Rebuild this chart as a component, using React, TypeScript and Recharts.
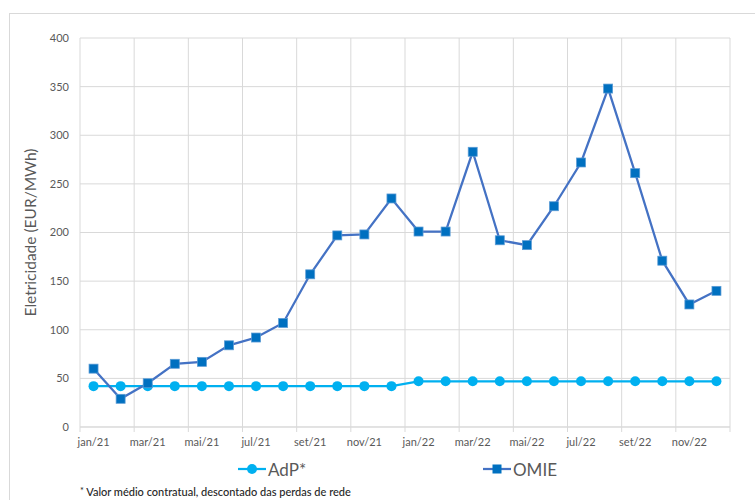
import { LineChart, Line, XAxis, YAxis, CartesianGrid, Legend } from 'recharts';

const FONT = 'Lato, "Open Sans", sans-serif';

// months (jan/21 .. dez/22)
const months = [
  'jan/21', 'fev/21', 'mar/21', 'abr/21', 'mai/21', 'jun/21',
  'jul/21', 'ago/21', 'set/21', 'out/21', 'nov/21', 'dez/21',
  'jan/22', 'fev/22', 'mar/22', 'abr/22', 'mai/22', 'jun/22',
  'jul/22', 'ago/22', 'set/22', 'out/22', 'nov/22', 'dez/22',
];

// AdP* - contract average, EUR/MWh
const adpValues = [
  42, 42, 42, 42, 42, 42, 42, 42, 42, 42, 42, 42,
  47, 47, 47, 47, 47, 47, 47, 47, 47, 47, 47, 47,
];

// OMIE - market price, EUR/MWh
const omieValues = [
  60, 29, 45, 65, 67, 84, 92, 107, 157, 197, 198, 235,
  201, 201, 283, 192, 187, 227, 272, 348, 261, 171, 126, 140,
];

const yTicks = [0, 50, 100, 150, 200, 250, 300, 350, 400];

// each month sits in the middle of its own slot on a 0..24 scale
const data = months.map((month, i) => ({
  pos: i + 0.5,
  month,
  adp: adpValues[i],
  omie: omieValues[i],
}));

const labelTicks = data.filter((_, i) => i % 2 === 0).map((d) => d.pos);
const gridTicks = [0, 2, 4, 6, 8, 10, 12, 14, 16, 18, 20, 22, 24];

const ADP_COLOR = '#00B0F0';
const OMIE_LINE = '#4472C4';
const OMIE_MARK = '#0070C0';
const GRID = '#d9d9d9';
const TEXT = '#595959';

function SquareDot(props: any) {
  const { cx, cy, index } = props;
  if (cx == null || cy == null) return <g key={`sq-${index}`} />;
  return (
    <rect
      key={`sq-${index}`}
      x={cx - 4.5}
      y={cy - 4.5}
      width={9}
      height={9}
      fill={OMIE_MARK}
      stroke="#5B9BD5"
      strokeWidth={0.75}
    />
  );
}

function renderLegend() {
  return (
    <div style={{ position: 'relative', height: 20, fontFamily: FONT, fontSize: 17, color: TEXT }}>
      <div style={{ position: 'absolute', left: 238, top: 0, height: 20, display: 'flex', alignItems: 'center' }}>
        <svg width={28} height={12}>
          <line x1={0} y1={6} x2={28} y2={6} stroke={ADP_COLOR} strokeWidth={2.25} />
          <circle cx={14} cy={6} r={5} fill={ADP_COLOR} />
        </svg>
        <span style={{ marginLeft: 2 }}>AdP*</span>
      </div>
      <div style={{ position: 'absolute', left: 483, top: 0, height: 20, display: 'flex', alignItems: 'center' }}>
        <svg width={28} height={12}>
          <line x1={0} y1={6} x2={28} y2={6} stroke={OMIE_LINE} strokeWidth={2.25} />
          <rect x={9.5} y={1.5} width={9} height={9} fill={OMIE_MARK} />
        </svg>
        <span style={{ marginLeft: 2 }}>OMIE</span>
      </div>
    </div>
  );
}

export default function App() {
  return (
    <div style={{ position: 'fixed', left: 0, top: 0, width: 755, height: 500, background: '#fff', overflow: 'hidden' }}>
      <div
        style={{
          position: 'absolute',
          left: 9,
          top: 13,
          width: 770,
          height: 520,
          border: `1px solid ${GRID}`,
        }}
      />
      <LineChart
        width={755}
        height={500}
        data={data}
        margin={{ top: 38, right: 25, left: 0, bottom: 21 }}
        style={{ position: 'absolute', left: 0, top: 0 }}
      >
        <CartesianGrid stroke={GRID} strokeWidth={1} xAxisId="grid" />
        <XAxis
          xAxisId="grid"
          type="number"
          dataKey="pos"
          domain={[0, 24]}
          ticks={gridTicks}
          tickFormatter={() => ''}
          axisLine={{ stroke: GRID }}
          tickLine={{ stroke: GRID }}
          tickSize={5}
          height={6}
          interval={0}
        />
        <XAxis
          xAxisId="lbl"
          type="number"
          dataKey="pos"
          domain={[0, 24]}
          ticks={labelTicks}
          tickFormatter={(v: number) => months[Math.floor(v)]}
          axisLine={false}
          tickLine={false}
          tickSize={0}
          tickMargin={5}
          height={26}
          interval={0}
          tick={{ fill: TEXT, fontSize: 11, fontFamily: FONT }}
        />
        <YAxis
          domain={[0, 400]}
          ticks={yTicks}
          axisLine={false}
          tickLine={false}
          tickSize={0}
          tickMargin={11}
          width={80}
          tick={{ fill: TEXT, fontSize: 11, fontFamily: FONT }}
          label={{
            value: 'Eletricidade (EUR/MWh)',
            angle: -90,
            position: 'center',
            dx: -10,
            fill: TEXT,
            fontSize: 15.5,
            fontFamily: FONT,
          }}
        />
        <Legend
          verticalAlign="bottom"
          content={renderLegend}
          wrapperStyle={{ left: 0, width: 755, height: 20 }}
        />
        <Line
          xAxisId="lbl"
          type="linear"
          dataKey="adp"
          name="AdP*"
          stroke={ADP_COLOR}
          strokeWidth={2.25}
          dot={{ r: 5, fill: ADP_COLOR, stroke: 'none' }}
          activeDot={false}
          isAnimationActive={false}
        />
        <Line
          xAxisId="lbl"
          type="linear"
          dataKey="omie"
          name="OMIE"
          stroke={OMIE_LINE}
          strokeWidth={2.25}
          dot={SquareDot}
          activeDot={false}
          isAnimationActive={false}
        />
      </LineChart>
      <div
        style={{
          position: 'absolute',
          left: 80,
          top: 485,
          fontFamily: FONT,
          fontSize: 11,
          fontWeight: 500,
          color: '#262626',
          whiteSpace: 'nowrap',
        }}
      >
        <span style={{ fontSize: 9, position: 'relative', top: -2 }}>*</span> Valor médio contratual, descontado das perdas de rede
      </div>
    </div>
  );
}
